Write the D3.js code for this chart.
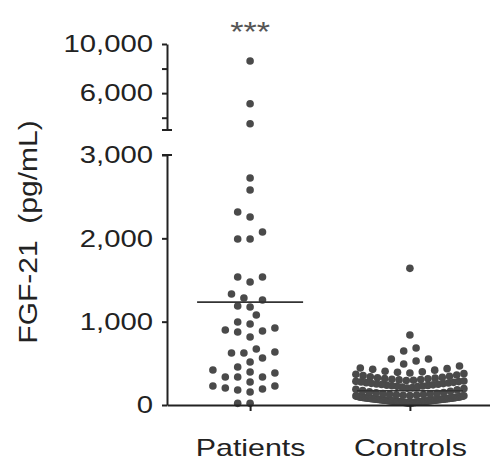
<!DOCTYPE html>
<html>
<head>
<meta charset="utf-8">
<script src="https://cdn.jsdelivr.net/npm/d3@7"></script>
<style>
  html, body { margin: 0; padding: 0; background: #fff; }
  svg { display: block; }
</style>
</head>
<body>
<div id="chart"></div>
<script>
// ---------- data ----------
const categories = ["Patients", "Controls"];

const patients = [8622, 5135, 3514,
  2724, 2580, 2316, 2256, 2076, 1992, 1992, 1536, 1536, 1476,
  1332, 1284, 1260, 1188, 1176, 1080, 996, 972, 924, 900, 888, 876, 816,
  672, 636, 624, 624, 564, 516, 456, 420, 396, 384, 336, 336, 336,
  276, 228, 228, 204, 192, 180, 156, 20, 20];

const controls = [1640, 840, 684, 648, 552, 552, 528, 492, 468, 444,
  436, 428, 418, 405, 398, 392, 384, 376, 368, 360, 352,
  344, 338, 331, 327, 322, 318, 314, 309, 305, 301, 297, 293, 288, 284, 281,
  277, 272, 268, 264, 260, 257, 253, 249, 246, 242, 238, 235, 231, 228, 224,
  220, 214, 209, 203, 196, 188, 181, 172, 164, 157, 150, 146, 141, 137, 133,
  129, 126, 123, 120, 117,
  112, 110, 109, 107, 105, 104, 103, 101, 100, 98, 97, 96, 94, 93, 92, 91,
  89, 88, 87, 86, 85, 84, 82, 81, 80, 79, 78, 77, 76, 75, 74, 73, 72, 71,
  70, 69, 68, 67, 66, 65, 64, 63, 62, 61, 60, 59, 58, 57, 56, 55, 54, 53,
  52, 51, 50, 49, 48, 47, 46, 45, 44, 43, 42, 41, 40, 39, 38, 37, 36, 35,
  34, 33, 32, 31, 30, 29, 28, 27, 26, 25,
  92, 85, 78, 71, 64, 58, 52, 46, 40, 34, 88, 76, 66, 56, 48, 42, 36, 30, 24, 20];

const seriesByCategory = { "Patients": patients, "Controls": controls };

const yTicksLow = [0, 1000, 2000, 3000];
const yTicksHigh = [4000, 6000, 8000, 10000];
const yLabelsHigh = [6000, 10000];
const yTitle = "FGF-21  (pg/mL)";
const sigLabel = "***";

// ---------- layout ----------
const W = 490, H = 462;
const axisX = 167;
const FONT = "'Liberation Sans', Arial, Helvetica, sans-serif";
const TXT = "#222";
const SX = 1.22;

const yLow = d3.scaleLinear().domain([0, 3000]).range([405, 155]);
const yHigh = d3.scaleLinear().domain([3000, 10000]).range([130, 44]);
const yVal = v => v <= 3000 ? yLow(v) : yHigh(v);
const x = d3.scalePoint().domain(categories).range([axisX, 493]).padding(0.52);

const svg = d3.select("#chart").append("svg")
  .attr("width", W).attr("height", H)
  .style("background", "#fff");

// ---------- greedy beeswarm (ascending) ----------
function swarm(values, cx, step, maxK, thr) {
  const pts = values.map(v => ({ v, y: yVal(v) })).sort((a, b) => a.v - b.v);
  const order = [0];
  for (let k = 1; k <= maxK; k++) order.push(-k, k);
  const placed = [];
  for (const p of pts) {
    let best = cx, bestD = -1;
    for (const k of order) {
      const px = cx + k * step;
      let minD = Infinity;
      for (const q of placed) {
        const dy = Math.abs(q.y - p.y);
        if (dy < thr) {
          const d = Math.hypot(q.x - px, dy);
          if (d < minD) minD = d;
        }
      }
      if (minD >= thr) { best = px; bestD = Infinity; break; }
      if (minD > bestD + 0.01) { bestD = minD; best = px; }
    }
    p.x = best;
    placed.push(p);
  }
  return placed;
}

// ---------- row beeswarm: rows of close values, lowest in the middle ----------
function rowSwarm(values, cx, step, maxW, rowH) {
  const pts = values.map(v => ({ v, y: yVal(v) })).sort((a, b) => a.v - b.v);
  const rows = [];
  let cur = [];
  for (const p of pts) {
    if (cur.length && cur[0].y - p.y >= rowH) { rows.push(cur); cur = []; }
    cur.push(p);
  }
  if (cur.length) rows.push(cur);
  rows.forEach(r => {
    const n = r.length;
    const s = n > 1 ? Math.min(step, maxW / (n - 1)) : 0;
    const offs = [];
    for (let i = 0; i < n; i++) offs.push((i - (n - 1) / 2) * s);
    offs.sort((a, b) => Math.abs(a) - Math.abs(b) || a - b);
    r.forEach((p, i) => { p.x = cx + offs[i]; });
  });
  return pts;
}

// ---------- dots ----------
const layouts = {
  "Patients": swarm(patients, x("Patients"), 6.2, 9, 10),
  "Controls": rowSwarm(controls, x("Controls"), 12.4, 108, 7.5)
};
categories.forEach(c => {
  svg.append("g").selectAll("circle").data(layouts[c]).join("circle")
    .attr("cx", d => d.x).attr("cy", d => d.y).attr("r", 3.8)
    .attr("fill", "#4a4a4a");
});

// ---------- mean lines ----------
categories.forEach(c => {
  const m = d3.mean(seriesByCategory[c]);
  svg.append("line")
    .attr("x1", x(c) - 53).attr("x2", x(c) + 53)
    .attr("y1", yVal(m)).attr("y2", yVal(m))
    .attr("stroke", "#333").attr("stroke-width", 1.6);
});

// ---------- axes ----------
function styleAxis(g, size, sx) {
  g.select(".domain").attr("stroke", TXT).attr("stroke-width", 2);
  g.selectAll(".tick line").attr("stroke", TXT).attr("stroke-width", 2);
  g.selectAll(".tick text")
    .attr("fill", TXT).style("font-family", FONT).style("font-size", size + "px")
    .attr("transform", `scale(${sx},1)`);
}

const gLow = svg.append("g").attr("transform", `translate(${axisX},0)`)
  .call(d3.axisLeft(yLow).tickValues(yTicksLow).tickFormat(d3.format(","))
    .tickSize(5).tickSizeOuter(0).tickPadding(6.5));
styleAxis(gLow, 24, SX);

const gHigh = svg.append("g").attr("transform", `translate(${axisX},0)`)
  .call(d3.axisLeft(yHigh).tickValues(yTicksHigh)
    .tickFormat(d => yLabelsHigh.includes(d) ? d3.format(",")(d) : "")
    .tickSize(5).tickSizeOuter(0).tickPadding(6.5));
styleAxis(gHigh, 24, SX);

// break caps
[yHigh(3000), yLow(3000)].forEach(yy => {
  svg.append("line").attr("x1", axisX - 5).attr("x2", axisX + 5)
    .attr("y1", yy).attr("y2", yy).attr("stroke", TXT).attr("stroke-width", 2);
});

const gX = svg.append("g").attr("transform", `translate(0,${yLow(0)})`)
  .call(d3.axisBottom(x).tickSize(6).tickSizeOuter(0).tickPadding(31));
styleAxis(gX, 23, 1.32);
gX.selectAll(".tick text").attr("dy", null).attr("y", 51.5);

// ---------- titles ----------
svg.append("text")
  .attr("transform", `translate(37,232) rotate(-90) scale(1.2,1)`)
  .attr("text-anchor", "middle")
  .style("font-family", FONT).style("font-size", "25px").attr("fill", TXT)
  .style("white-space", "pre")
  .text(yTitle);

svg.append("text")
  .attr("transform", `translate(${x("Patients")},41) scale(${SX},1)`)
  .attr("text-anchor", "middle")
  .style("font-family", FONT).style("font-size", "28px").attr("fill", "#555")
  .text(sigLabel);
</script>
</body>
</html>
